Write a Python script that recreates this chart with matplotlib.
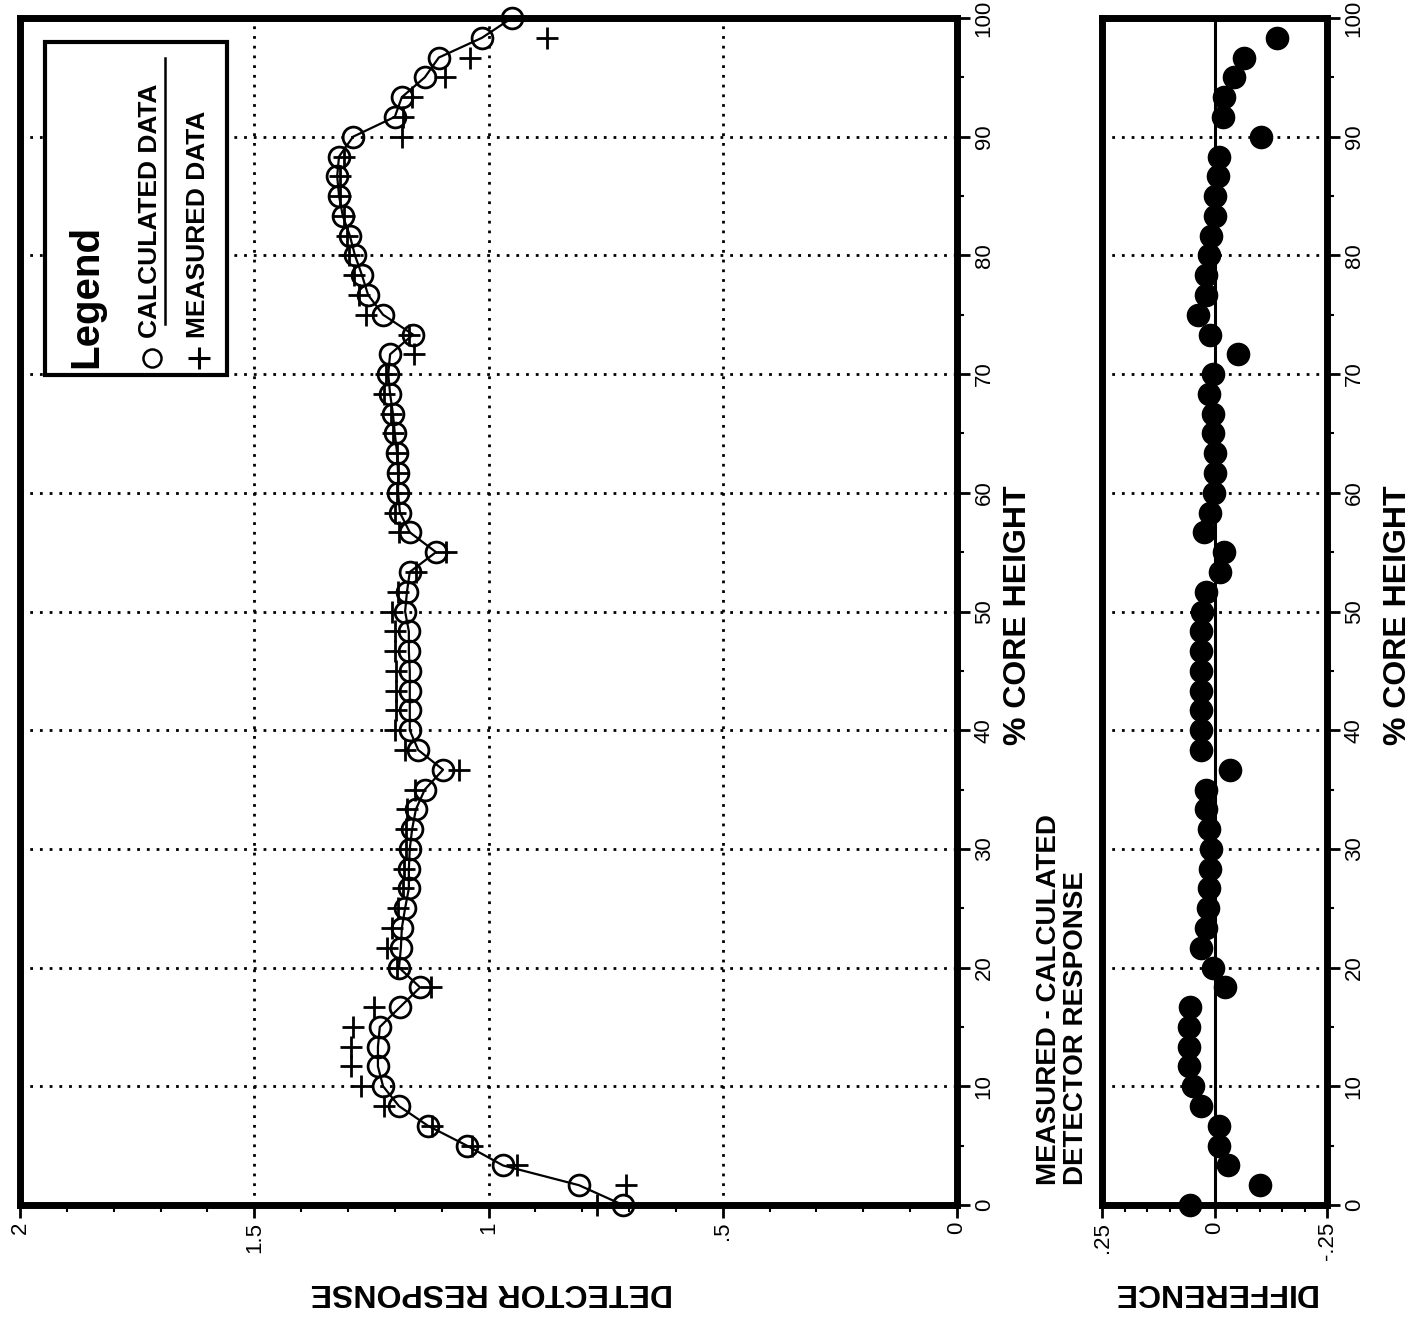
"""
Detector response vs. % core height (calculated vs measured), plus the
measured - calculated difference panel.  The page is laid out rotated
(core height runs bottom -> top, response runs right -> left).
"""

import matplotlib
matplotlib.use("Agg")
import matplotlib.pyplot as plt
from matplotlib.patches import Rectangle
from matplotlib.lines import Line2D
from matplotlib.ticker import MultipleLocator

plt.rcParams["font.family"] = ["Liberation Sans", "DejaVu Sans"]

# ---- data ------------------------------------------------------------------
CORE_HEIGHT = [
    0.0, 1.67, 3.33, 5.0, 6.67, 8.33, 10.0, 11.67, 13.33, 15.0,
    16.67, 18.33, 20.0, 21.67, 23.33, 25.0, 26.67, 28.33, 30.0, 31.67,
    33.33, 35.0, 36.67, 38.33, 40.0, 41.67, 43.33, 45.0, 46.67, 48.33,
    50.0, 51.67, 53.33, 55.0, 56.67, 58.33, 60.0, 61.67, 63.33, 65.0,
    66.67, 68.33, 70.0, 71.67, 73.33, 75.0, 76.67, 78.33, 80.0, 81.67,
    83.33, 85.0, 86.67, 88.33, 90.0, 91.67, 93.33, 95.0, 96.67, 98.33,
    100.0,
]
CALCULATED = [
    0.713, 0.807, 0.969, 1.046, 1.129, 1.191, 1.225, 1.236, 1.236, 1.232,
    1.189, 1.146, 1.191, 1.187, 1.185, 1.178, 1.170, 1.170, 1.168, 1.163,
    1.155, 1.136, 1.097, 1.150, 1.168, 1.168, 1.168, 1.168, 1.170, 1.170,
    1.178, 1.174, 1.168, 1.112, 1.168, 1.189, 1.193, 1.193, 1.195, 1.200,
    1.204, 1.210, 1.214, 1.210, 1.161, 1.225, 1.257, 1.270, 1.285, 1.296,
    1.311, 1.319, 1.323, 1.319, 1.289, 1.200, 1.185, 1.136, 1.106, 1.014,
    0.950,
]
# measured data stops one level short of the top
MEASURED_HEIGHT = [
    0.0, 1.67, 3.33, 5.0, 6.67, 8.33, 10.0, 11.67, 13.33, 15.0,
    16.67, 18.33, 20.0, 21.67, 23.33, 25.0, 26.67, 28.33, 30.0, 31.67,
    33.33, 35.0, 36.67, 38.33, 40.0, 41.67, 43.33, 45.0, 46.67, 48.33,
    50.0, 51.67, 53.33, 55.0, 56.67, 58.33, 60.0, 61.67, 63.33, 65.0,
    66.67, 68.33, 70.0, 71.67, 73.33, 75.0, 76.67, 78.33, 80.0, 81.67,
    83.33, 85.0, 86.67, 88.33, 90.0, 91.67, 93.33, 95.0, 96.67, 98.33,
]
MEASURED = [
    0.768, 0.706, 0.940, 1.035, 1.120, 1.222, 1.273, 1.293, 1.293, 1.289,
    1.244, 1.122, 1.195, 1.216, 1.205, 1.193, 1.183, 1.181, 1.176, 1.176,
    1.173, 1.156, 1.063, 1.179, 1.199, 1.197, 1.197, 1.197, 1.199, 1.199,
    1.205, 1.194, 1.155, 1.090, 1.192, 1.200, 1.195, 1.193, 1.195, 1.204,
    1.208, 1.223, 1.218, 1.158, 1.170, 1.262, 1.277, 1.288, 1.298, 1.303,
    1.309, 1.317, 1.316, 1.308, 1.185, 1.182, 1.163, 1.092, 1.040, 0.875,
]
DIFFERENCE = [
    0.055, -0.101, -0.029, -0.011, -0.009, 0.031, 0.048, 0.057, 0.057, 0.057,
    0.055, -0.024, 0.004, 0.029, 0.020, 0.015, 0.013, 0.011, 0.008, 0.013,
    0.018, 0.020, -0.034, 0.029, 0.031, 0.029, 0.029, 0.029, 0.029, 0.029,
    0.027, 0.020, -0.013, -0.022, 0.024, 0.011, 0.002, 0.000, 0.000, 0.004,
    0.004, 0.013, 0.004, -0.052, 0.009, 0.037, 0.020, 0.018, 0.013, 0.007,
    -0.002, -0.002, -0.007, -0.011, -0.104, -0.018, -0.022, -0.044, -0.066, -0.139,
]

RESP_TICKS = [0, 0.5, 1, 1.5, 2]
RESP_TICKLABELS = ["0", ".5", "1", "1.5", "2"]
DIFF_TICKS = [0.25, 0, -0.25]
DIFF_TICKLABELS = [".25", "0", "-.25"]
HEIGHT_TICKS = list(range(0, 101, 10))

W, H = 1417, 1317
TICK_FS = 16
LABEL_FS = 23
DOTTED = (0, (1, 2.5))


def px_box(left, top, right, bottom):
    """Axes rectangle from pixel edges (origin top-left)."""
    return [left / W, 1 - bottom / H, (right - left) / W, (bottom - top) / H]


def px(x, y):
    return x / W, 1 - y / H


def style_axes(ax, xticks, xticklabels, xminor):
    for sp in ax.spines.values():
        sp.set_linewidth(5)
    ax.set_ylim(0, 100)
    ax.yaxis.tick_right()
    ax.set_yticks(HEIGHT_TICKS, [str(v) for v in HEIGHT_TICKS])
    ax.yaxis.set_minor_locator(MultipleLocator(5))
    ax.set_xticks(xticks, xticklabels)
    ax.xaxis.set_minor_locator(MultipleLocator(xminor))
    ax.tick_params(axis="both", which="major", direction="out", length=9,
                   width=2, labelsize=TICK_FS, labelrotation=90, pad=3)
    ax.tick_params(axis="both", which="minor", direction="out", length=5, width=1.5)
    ax.tick_params(axis="y", which="both", left=False, right=True)
    for lab in ax.get_yticklabels():
        lab.set_va("center")
    ax.grid(True, axis="y", which="major", color="black", lw=2, ls=DOTTED)
    ax.set_axisbelow(True)


fig = plt.figure(figsize=(W / 100, H / 100), dpi=100)

# ---- main panel --------------------------------------------------------------
ax = fig.add_axes(px_box(20, 18, 957, 1205))
ax.set_xlim(2, 0)
style_axes(ax, RESP_TICKS, RESP_TICKLABELS, 0.1)
ax.grid(True, axis="x", which="major", color="black", lw=2, ls=DOTTED)

ax.plot(CALCULATED, CORE_HEIGHT, "-", color="black", lw=1.6, zorder=3, clip_on=False)
ax.plot(CALCULATED, CORE_HEIGHT, "o", mfc="none", mec="black", ms=15, mew=2,
        zorder=4, clip_on=False)
ax.plot(MEASURED, MEASURED_HEIGHT, "+", color="black", ms=16, mew=2.0,
        zorder=5, clip_on=False)

# legend box, drawn by hand because the whole page is rotated
fig.add_artist(Rectangle(px(45, 375), 182 / W, 333 / H, transform=fig.transFigure,
                         facecolor="white", edgecolor="black", lw=3, zorder=2))
fig.text(*px(86, 368), "Legend", rotation=90, ha="center", va="bottom",
         fontsize=29, fontweight="bold", zorder=3)
fig.add_artist(Line2D([152 / W], [1 - 358 / H], transform=fig.transFigure,
                      marker="o", mfc="none", mec="black", ms=13, mew=1.8, zorder=3))
fig.text(*px(150, 338), "CALCULATED DATA", rotation=90, ha="center", va="bottom",
         fontsize=19, fontweight="bold", zorder=3)
fig.add_artist(Line2D([165 / W, 165 / W], [1 - 324 / H, 1 - 58 / H],
                      transform=fig.transFigure, color="black", lw=1.8, zorder=3))
fig.add_artist(Line2D([199 / W], [1 - 358 / H], transform=fig.transFigure,
                      marker="+", color="black", ms=16, mew=2.2, zorder=3))
fig.text(*px(198, 338), "MEASURED DATA", rotation=90, ha="center", va="bottom",
         fontsize=19, fontweight="bold", zorder=3)

fig.text(*px(1018, 615), "% CORE HEIGHT", rotation=90, ha="center", va="center",
         fontsize=LABEL_FS, fontweight="bold")
fig.text(*px(492, 1292), "DETECTOR RESPONSE", rotation=180, ha="center", va="center",
         fontsize=LABEL_FS, fontweight="bold")

# ---- difference panel --------------------------------------------------------
axd = fig.add_axes(px_box(1102, 18, 1327, 1205))
axd.set_xlim(0.25, -0.25)
style_axes(axd, DIFF_TICKS, DIFF_TICKLABELS, 0.05)
axd.axvline(0, color="black", lw=2.2, zorder=2)
axd.plot(DIFFERENCE, MEASURED_HEIGHT, "o", color="black", ms=16, zorder=4, clip_on=False)

fig.text(*px(1036, 1185), "MEASURED - CALCULATED\nDETECTOR RESPONSE", rotation=90,
         ha="left", va="bottom", multialignment="left", linespacing=1.05,
         fontsize=20, fontweight="bold")
fig.text(*px(1398, 615), "% CORE HEIGHT", rotation=90, ha="center", va="center",
         fontsize=LABEL_FS, fontweight="bold")
fig.text(*px(1214, 1292), "DIFFERENCE", rotation=180, ha="center", va="center",
         fontsize=LABEL_FS, fontweight="bold")

fig.savefig("out.png", dpi=100)
